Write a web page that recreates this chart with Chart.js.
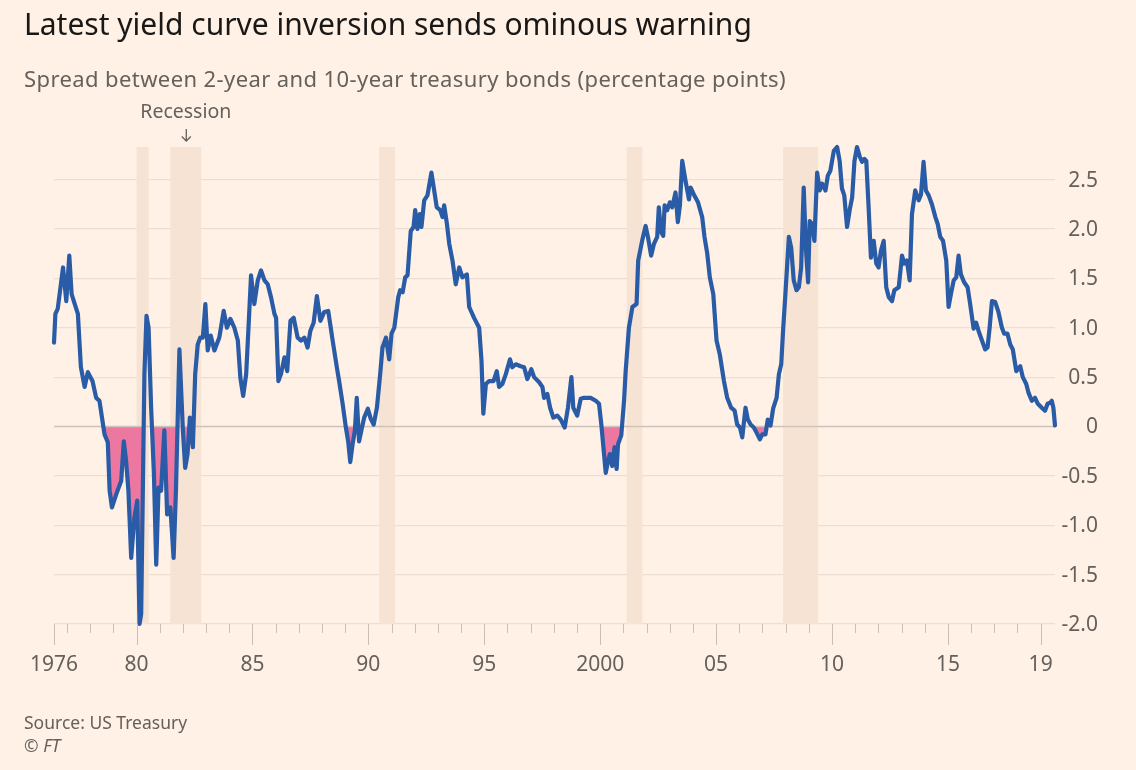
<!DOCTYPE html>
<html><head><meta charset="utf-8">
<script src="https://cdn.jsdelivr.net/npm/chart.js@4/dist/chart.umd.min.js"></script>
<style>
html,body{margin:0;padding:0;background:#fff1e5;}
body{width:1136px;height:770px;position:relative;overflow:hidden;font-family:"Noto Sans",sans-serif;}
#c{position:absolute;left:0;top:0;}
.t{position:absolute;left:24px;white-space:nowrap;line-height:1;}
#title{top:9px;font-size:30px;color:#1a1817;}
#sub{top:67px;font-size:22px;letter-spacing:0.4px;color:#66605c;}
#src{top:714px;font-size:17.5px;color:#66605c;}
#ft{top:737px;font-size:17.5px;color:#66605c;}
#ft i{font-style:italic;}
</style></head>
<body>
<canvas id="c" width="1136" height="770"></canvas>
<div class="t" id="title">Latest yield curve inversion sends ominous warning</div>
<div class="t" id="sub">Spread between 2-year and 10-year treasury bonds (percentage points)</div>
<div class="t" id="src">Source: US Treasury</div>
<div class="t" id="ft">© <i>FT</i></div>
<script>
const years = [
1976.44,1976.5,1976.6,1976.83,1976.97,1977.1,1977.2,1977.47,1977.6,1977.76,1977.9,1978.1,1978.26,1978.4,1978.62,1978.76,1978.84,1978.94,1979.12,1979.34,1979.45,1979.55,1979.65,1979.77,1979.91,1980.03,1980.13,1980.2,1980.34,1980.43,1980.52,1980.63,1980.75,1980.85,1980.95,1981.06,1981.2,1981.32,1981.46,1981.6,1981.7,1981.85,1982.0,1982.1,1982.2,1982.3,1982.43,1982.53,1982.64,1982.75,1982.86,1982.97,1983.07,1983.2,1983.36,1983.57,1983.76,1983.9,1984.05,1984.22,1984.37,1984.48,1984.6,1984.73,1984.83,1984.94,1985.08,1985.23,1985.37,1985.52,1985.66,1985.8,1985.95,1986.02,1986.12,1986.23,1986.38,1986.5,1986.64,1986.78,1986.95,1987.1,1987.24,1987.38,1987.5,1987.64,1987.78,1987.93,1988.1,1988.27,1988.46,1988.64,1988.74,1988.89,1989.03,1989.13,1989.22,1989.32,1989.42,1989.5,1989.6,1989.7,1989.82,1989.98,1990.1,1990.23,1990.37,1990.51,1990.61,1990.76,1990.9,1991.0,1991.12,1991.29,1991.37,1991.48,1991.59,1991.69,1991.83,1991.95,1992.02,1992.12,1992.22,1992.29,1992.41,1992.55,1992.72,1992.84,1992.95,1993.1,1993.2,1993.27,1993.39,1993.49,1993.63,1993.77,1993.92,1994.06,1994.25,1994.35,1994.56,1994.78,1994.88,1994.96,1995.07,1995.21,1995.4,1995.54,1995.64,1995.78,1995.93,1996.11,1996.21,1996.36,1996.57,1996.72,1996.86,1997.03,1997.15,1997.36,1997.51,1997.58,1997.72,1997.84,1997.98,1998.15,1998.3,1998.47,1998.61,1998.76,1998.84,1999.01,1999.16,1999.3,1999.44,1999.59,1999.81,1999.95,2000.05,2000.14,2000.24,2000.34,2000.42,2000.52,2000.62,2000.71,2000.77,2000.91,2001.03,2001.1,2001.24,2001.39,2001.57,2001.64,2001.81,2001.96,2002.06,2002.2,2002.32,2002.46,2002.53,2002.63,2002.72,2002.78,2002.89,2003.01,2003.11,2003.25,2003.35,2003.44,2003.54,2003.68,2003.83,2003.9,2004.04,2004.22,2004.4,2004.5,2004.62,2004.73,2004.88,2005.02,2005.16,2005.34,2005.48,2005.65,2005.8,2005.91,2006.03,2006.13,2006.27,2006.37,2006.49,2006.63,2006.74,2006.89,2006.99,2007.13,2007.23,2007.35,2007.46,2007.61,2007.71,2007.81,2007.89,2007.99,2008.14,2008.24,2008.35,2008.47,2008.57,2008.67,2008.78,2008.88,2008.97,2009.04,2009.14,2009.24,2009.36,2009.47,2009.57,2009.72,2009.82,2009.93,2010.08,2010.22,2010.33,2010.43,2010.53,2010.65,2010.77,2010.87,2010.97,2011.08,2011.2,2011.3,2011.4,2011.48,2011.58,2011.68,2011.8,2011.91,2012.01,2012.11,2012.23,2012.34,2012.45,2012.59,2012.69,2012.88,2013.02,2013.12,2013.23,2013.35,2013.45,2013.59,2013.74,2013.84,2013.95,2014.05,2014.17,2014.31,2014.46,2014.56,2014.67,2014.79,2014.93,2015.03,2015.13,2015.25,2015.36,2015.46,2015.56,2015.7,2015.85,2015.96,2016.11,2016.22,2016.32,2016.47,2016.61,2016.71,2016.8,2016.9,2017.04,2017.18,2017.33,2017.43,2017.57,2017.69,2017.8,2017.95,2018.12,2018.23,2018.38,2018.48,2018.62,2018.76,2018.88,2019.05,2019.19,2019.3,2019.41,2019.48,2019.55,2019.62
];
const spread = [
0.85,1.14,1.19,1.61,1.27,1.73,1.34,1.14,0.60,0.40,0.55,0.46,0.29,0.26,-0.08,-0.16,-0.65,-0.82,-0.69,-0.55,-0.15,-0.35,-0.65,-1.33,-0.92,-0.75,-2.0,-1.9,0.53,1.12,1.0,0.19,-0.48,-1.40,-0.62,-0.65,-0.04,-0.89,-0.82,-1.33,-0.65,0.78,-0.04,-0.42,-0.28,0.09,-0.21,0.53,0.83,0.90,0.90,1.24,0.77,0.92,0.77,0.90,1.17,1.0,1.09,1.0,0.87,0.49,0.31,0.53,1.0,1.53,1.24,1.48,1.58,1.48,1.44,1.31,1.14,1.10,0.46,0.53,0.70,0.56,1.07,1.10,0.90,0.87,0.90,0.80,0.97,1.05,1.32,1.07,1.16,1.17,0.87,0.60,0.46,0.23,-0.01,-0.15,-0.36,-0.18,-0.04,0.29,-0.15,-0.04,0.09,0.18,0.08,0.02,0.19,0.53,0.80,0.90,0.68,0.94,1.0,1.31,1.38,1.36,1.51,1.53,1.98,2.02,2.19,2.0,2.15,2.02,2.29,2.34,2.57,2.39,2.22,2.19,2.12,2.24,2.05,1.85,1.68,1.44,1.61,1.51,1.54,1.21,1.10,1.0,0.67,0.13,0.43,0.46,0.46,0.56,0.40,0.43,0.53,0.68,0.60,0.63,0.61,0.60,0.48,0.58,0.50,0.45,0.40,0.29,0.33,0.19,0.09,0.11,0.07,-0.01,0.19,0.50,0.19,0.11,0.28,0.29,0.29,0.29,0.26,0.23,0.02,-0.21,-0.47,-0.35,-0.28,-0.40,-0.21,-0.43,-0.18,-0.09,0.26,0.56,1.0,1.21,1.24,1.68,1.88,2.03,1.92,1.73,1.85,1.92,2.22,1.97,1.93,2.24,2.19,2.27,2.22,2.37,2.07,2.24,2.69,2.49,2.30,2.42,2.35,2.27,2.12,1.92,1.75,1.51,1.34,0.87,0.73,0.46,0.29,0.19,0.16,0.02,-0.01,-0.11,0.19,0.07,0.02,-0.01,-0.06,-0.13,-0.08,-0.08,0.07,0.01,0.18,0.29,0.53,0.63,0.97,1.34,1.92,1.81,1.48,1.38,1.41,1.61,2.42,1.78,1.46,2.08,2.05,1.88,2.57,2.39,2.46,2.39,2.54,2.59,2.79,2.83,2.69,2.41,2.34,2.02,2.20,2.32,2.69,2.83,2.73,2.68,2.71,2.69,2.22,1.71,1.88,1.65,1.61,1.78,1.88,1.41,1.31,1.27,1.38,1.41,1.73,1.65,1.68,1.48,2.15,2.39,2.29,2.35,2.68,2.39,2.34,2.25,2.12,2.05,1.92,1.88,1.68,1.21,1.34,1.48,1.51,1.73,1.54,1.46,1.41,1.24,0.99,1.05,0.97,0.87,0.78,0.80,1.0,1.27,1.26,1.16,1.0,0.94,0.94,0.83,0.78,0.56,0.61,0.50,0.43,0.34,0.26,0.29,0.23,0.19,0.16,0.23,0.24,0.26,0.19,0.01
];
const recessionStart = [1980.0, 1981.46, 1990.47, 2001.14, 2007.89];
const recessionEnd   = [1980.52, 1982.79, 1991.15, 2001.82, 2009.40];
const recessionLabel = 'Recession';
const recessionLabelIndex = 1;
const xMin = 1976.44, xMax = 2019.62;
const xTickValues = [1976.44, 1980, 1985, 1990, 1995, 2000, 2005, 2010, 2015, 2019];
const xTickLabels = ['1976','80','85','90','95','2000','05','10','15','19'];
const yTickValues = [-2, -1.5, -1, -0.5, 0, 0.5, 1, 1.5, 2, 2.5];
const yTickLabels = ['-2.0','-1.5','-1.0','-0.5','0','0.5','1.0','1.5','2.0','2.5'];
const yMin = -2, yMax = 2.83;

const GRAY = '#66605c';
const FONT = '"Noto Sans", sans-serif';
const Y_LABEL_RIGHT = 1098;

const decor = {
  id: 'decor',
  beforeDatasetsDraw(chart) {
    const {ctx, chartArea: a, scales: {x}} = chart;
    ctx.save();
    ctx.fillStyle = '#f6e3d4';
    for (let i = 0; i < recessionStart.length; i++) {
      const x0 = x.getPixelForValue(recessionStart[i]);
      const x1 = x.getPixelForValue(recessionEnd[i]);
      ctx.fillRect(x0, a.top, x1 - x0, a.bottom - a.top);
    }
    ctx.restore();
  },
  beforeDatasetDraw(chart) {
    // zero line drawn above the inversion fill, beneath the line
    const {ctx, chartArea: a, scales: {y}} = chart;
    const y0 = Math.round(y.getPixelForValue(0)) + 0.5;
    ctx.save();
    ctx.strokeStyle = '#cdc3ba';
    ctx.lineWidth = 1.6;
    ctx.beginPath(); ctx.moveTo(a.left, y0); ctx.lineTo(a.right, y0); ctx.stroke();
    ctx.restore();
  },
  afterDraw(chart) {
    const {ctx, chartArea: a, scales: {x, y}} = chart;
    ctx.save();
    // x tick marks: yearly minor, 5-yearly major
    ctx.strokeStyle = '#cbbfb4';
    ctx.lineWidth = 1;
    const majors = new Set(xTickValues);
    const marks = [xMin];
    for (let yr = Math.ceil(xMin); yr <= Math.floor(xMax); yr++) marks.push(yr);
    const base = Math.round(a.bottom);
    marks.forEach(v => {
      const px = Math.round(x.getPixelForValue(v)) + 0.5;
      const len = majors.has(v) ? 21 : 9;
      ctx.beginPath(); ctx.moveTo(px, base); ctx.lineTo(px, base + len); ctx.stroke();
    });
    // y tick labels, right aligned
    ctx.fillStyle = GRAY;
    ctx.font = '21px ' + FONT;
    ctx.textAlign = 'right';
    ctx.textBaseline = 'middle';
    yTickValues.forEach((v, i) => {
      ctx.fillText(yTickLabels[i], Y_LABEL_RIGHT, y.getPixelForValue(v) + 1);
    });
    // Recession annotation
    const cx = x.getPixelForValue((recessionStart[recessionLabelIndex] + recessionEnd[recessionLabelIndex]) / 2);
    ctx.font = '19.5px ' + FONT;
    ctx.textAlign = 'center';
    ctx.textBaseline = 'alphabetic';
    ctx.fillText(recessionLabel, cx, 118);
    ctx.strokeStyle = GRAY;
    ctx.lineWidth = 1.3;
    ctx.beginPath();
    ctx.moveTo(cx + 0.5, 129); ctx.lineTo(cx + 0.5, 141);
    ctx.moveTo(cx - 4, 136.5); ctx.lineTo(cx + 0.5, 141); ctx.lineTo(cx + 5, 136.5);
    ctx.stroke();
    ctx.restore();
  }
};

new Chart(document.getElementById('c'), {
  type: 'line',
  data: {
    datasets: [{
      data: years.map((v, i) => ({x: v, y: spread[i]})),
      borderColor: '#2a5ba6',
      borderWidth: 4.2,
      pointRadius: 0,
      tension: 0,
      borderJoinStyle: 'round',
      borderCapStyle: 'round',
      clip: 8,
      fill: {target: {value: 0}, above: 'rgba(0,0,0,0)', below: '#ec78a1'}
    }]
  },
  options: {
    responsive: false,
    animation: false,
    devicePixelRatio: 1,
    layout: {padding: {left: 54, right: 0, top: 147, bottom: 86}},
    plugins: {legend: {display: false}, tooltip: {enabled: false}},
    scales: {
      x: {
        type: 'linear', min: xMin, max: xMax,
        afterBuildTicks: s => { s.ticks = xTickValues.map(v => ({value: v})); },
        afterFit: s => { s.height = 60; },
        grid: {display: true, drawOnChartArea: false, drawTicks: true, tickLength: 21, color: 'rgba(0,0,0,0)'},
        border: {display: false},
        ticks: {autoSkip: false, maxRotation: 0, padding: 7, color: GRAY,
          font: {family: FONT, size: 21},
          callback: (v, i) => xTickLabels[i]}
      },
      y: {
        position: 'right', min: yMin, max: yMax,
        afterBuildTicks: s => { s.ticks = yTickValues.map(v => ({value: v})); },
        afterFit: s => { s.width = 81; },
        grid: {color: '#ebdfd3', lineWidth: 1.2, drawTicks: false},
        border: {display: false},
        ticks: {display: false}
      }
    }
  },
  plugins: [decor]
});
</script>
</body></html>
